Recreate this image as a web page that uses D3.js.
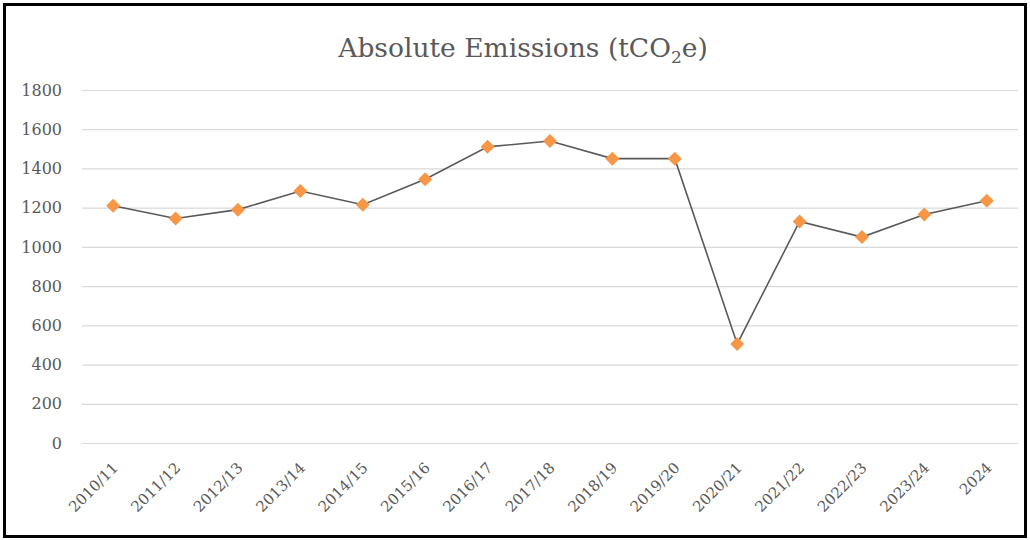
<!DOCTYPE html>
<html>
<head>
<meta charset="utf-8">
<script src="https://cdn.jsdelivr.net/npm/d3@7"></script>
<style>
  html, body { margin: 0; padding: 0; background: #fff; }
  .axis text { font-family: "DejaVu Serif", serif; fill: #595959; }
</style>
</head>
<body>
<div id="chart"></div>
<script>
var periods = ["2010/11", "2011/12", "2012/13", "2013/14", "2014/15", "2015/16", "2016/17",
  "2017/18", "2018/19", "2019/20", "2020/21", "2021/22", "2022/23", "2023/24", "2024"];
var emissions = [1210, 1145, 1190, 1285, 1215, 1345, 1510, 1540, 1450, 1450, 505, 1130, 1050, 1165, 1235];
var yTicks = [0, 200, 400, 600, 800, 1000, 1200, 1400, 1600, 1800];

var width = 1030, height = 540;
var margins = { top: 90, right: 12, bottom: 97, left: 82 };
var chartWidth = width - margins.left - margins.right;
var chartHeight = height - margins.top - margins.bottom;

var svg = d3.select("#chart")
  .append("svg")
  .attr("width", width)
  .attr("height", height);

// frame
svg.append("rect")
  .attr("x", 4.5)
  .attr("y", 4.5)
  .attr("width", width - 9)
  .attr("height", height - 8)
  .attr("fill", "none")
  .attr("stroke", "#000")
  .attr("stroke-width", 3);

// title with subscript
var title = svg.append("text")
  .attr("x", 523)
  .attr("y", 57)
  .attr("text-anchor", "middle")
  .attr("font-family", "DejaVu Serif, serif")
  .attr("font-size", 26.5)
  .attr("fill", "#595959");
title.append("tspan").text("Absolute Emissions (tCO");
title.append("tspan").attr("font-size", 17).attr("dy", 6).text("2");
title.append("tspan").attr("dy", -6).text("e)");

var chartElement = svg.append("g")
  .attr("transform", `translate(${margins.left},${margins.top})`);

var xScale = d3.scaleBand()
  .domain(periods)
  .range([0, chartWidth]);

var yScale = d3.scaleLinear()
  .domain([0, 1800])
  .range([chartHeight, 0]);

// grid
chartElement.append("g")
  .attr("class", "y grid")
  .call(d3.axisLeft(yScale).tickValues(yTicks).tickSize(-chartWidth).tickFormat(""))
  .call(g => g.select(".domain").remove())
  .call(g => g.selectAll("line").attr("stroke", "#d9d9d9").attr("stroke-width", 1.2));

// y axis labels
chartElement.append("g")
  .attr("class", "y axis")
  .call(d3.axisLeft(yScale).tickValues(yTicks).tickSize(0).tickPadding(20).tickFormat(d3.format("d")))
  .call(g => g.select(".domain").remove())
  .call(g => g.selectAll("text").attr("font-size", 16));

// x axis labels
chartElement.append("g")
  .attr("class", "x axis")
  .attr("transform", `translate(0,${chartHeight})`)
  .call(d3.axisBottom(xScale).tickSize(0))
  .call(g => g.select(".domain").remove())
  .call(g => g.selectAll("text")
    .attr("font-size", 15)
    .attr("text-anchor", "end")
    .attr("dy", "0.35em")
    .attr("transform", "translate(0,20) rotate(-45)"));

var line = d3.line()
  .x((d, i) => xScale(periods[i]) + xScale.bandwidth() / 2)
  .y(d => yScale(d));

chartElement.append("path")
  .datum(emissions)
  .attr("fill", "none")
  .attr("stroke", "#595959")
  .attr("stroke-width", 1.6)
  .attr("d", line);

chartElement.append("g")
  .attr("class", "dots")
  .selectAll("path")
  .data(emissions)
  .enter()
  .append("path")
  .attr("d", d3.symbol().type(d3.symbolDiamond2).size(125))
  .attr("transform", (d, i) => `translate(${xScale(periods[i]) + xScale.bandwidth() / 2},${yScale(d)})`)
  .attr("fill", "#F79646");
</script>
</body>
</html>
